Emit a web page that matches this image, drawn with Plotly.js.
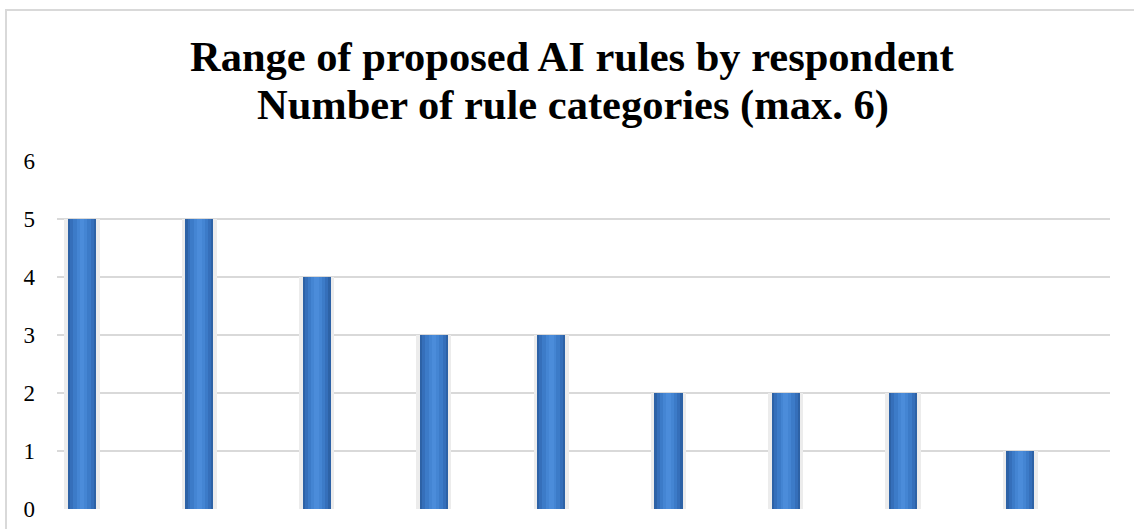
<!DOCTYPE html>
<html>
<head>
<meta charset="utf-8">
<script src="https://cdn.plot.ly/plotly-3.0.1.min.js"></script>
<style>
  html, body { margin: 0; padding: 0; background: #ffffff; }
  #chart { width: 1134px; height: 529px; }
</style>
</head>
<body>
<div id="chart"></div>
<script>
// Respondents (category axis, labels hidden) and number of rule categories each proposed
const respondents = ["R1", "R2", "R3", "R4", "R5", "R6", "R7", "R8", "R9"];
const ruleCounts = [5, 5, 4, 3, 3, 2, 2, 2, 1];
const yTicks = [0, 1, 2, 3, 4, 5, 6];

const titleLine1 = "Range of proposed AI rules by respondent";
const titleLine2 = "Number of rule categories (max. 6)";

// Cylinder look: stacked overlay bars, wide dark edge to narrow bright core
const layers = [
  { width: 0.30, color: "#ececec" },
  { width: 0.24, color: "#2d62a6" },
  { width: 0.20, color: "#356fba" },
  { width: 0.15, color: "#3c7bc8" },
  { width: 0.09, color: "#4485d3" },
  { width: 0.04, color: "#4b8cda" }
];

const traces = layers.map((l, i) => ({
  type: "bar",
  x: respondents,
  y: ruleCounts,
  width: l.width,
  marker: { color: l.color, line: { width: 0 } },
  hoverinfo: i === 1 ? "x+y" : "skip",
  showlegend: false
}));

const L = 57, R = 24, T = 161, B = 20;
const W = 1134, H = 529;
const pw = W - L - R, ph = H - T - B;
const px = v => (v - L) / pw;
const py = v => (H - B - v) / ph;

const serif = "Liberation Serif, Times New Roman, serif";

const layout = {
  width: W,
  height: H,
  margin: { l: L, r: R, t: T, b: B, pad: 0 },
  paper_bgcolor: "#ffffff",
  plot_bgcolor: "#ffffff",
  barmode: "overlay",
  bargap: 0,
  font: { family: serif, color: "#000000" },
  xaxis: {
    type: "category",
    range: [-0.213, 8.764],
    showticklabels: false,
    showgrid: false,
    zeroline: false,
    showline: false,
    ticks: ""
  },
  yaxis: {
    range: [0, 6],
    tickvals: yTicks,
    ticktext: yTicks.map(String),
    tickfont: { family: serif, size: 23, color: "#000000" },
    showgrid: true,
    gridcolor: "#d9d9d9",
    gridwidth: 1.5,
    zeroline: false,
    showline: false,
    ticks: "",
    ticklabelstandoff: 21
  },
  annotations: [
    {
      text: "<b>" + titleLine1 + "</b>",
      xref: "paper", yref: "paper",
      x: px(572), y: py(57),
      xanchor: "center", yanchor: "middle",
      showarrow: false,
      font: { family: serif, size: 42.5, color: "#000000" }
    },
    {
      text: "<b>" + titleLine2 + "</b>",
      xref: "paper", yref: "paper",
      x: px(573), y: py(105),
      xanchor: "center", yanchor: "middle",
      showarrow: false,
      font: { family: serif, size: 42.5, color: "#000000" }
    }
  ],
  shapes: [
    // outer chart frame (left and top edges)
    { type: "line", xref: "paper", yref: "paper", x0: px(6), x1: px(6), y0: py(9), y1: py(535),
      line: { color: "#d9d9d9", width: 2 } },
    { type: "line", xref: "paper", yref: "paper", x0: px(5), x1: px(1140), y0: py(10), y1: py(10),
      line: { color: "#d9d9d9", width: 2 } }
  ]
};

Plotly.newPlot("chart", traces, layout, { displayModeBar: false, staticPlot: true });
</script>
</body>
</html>
